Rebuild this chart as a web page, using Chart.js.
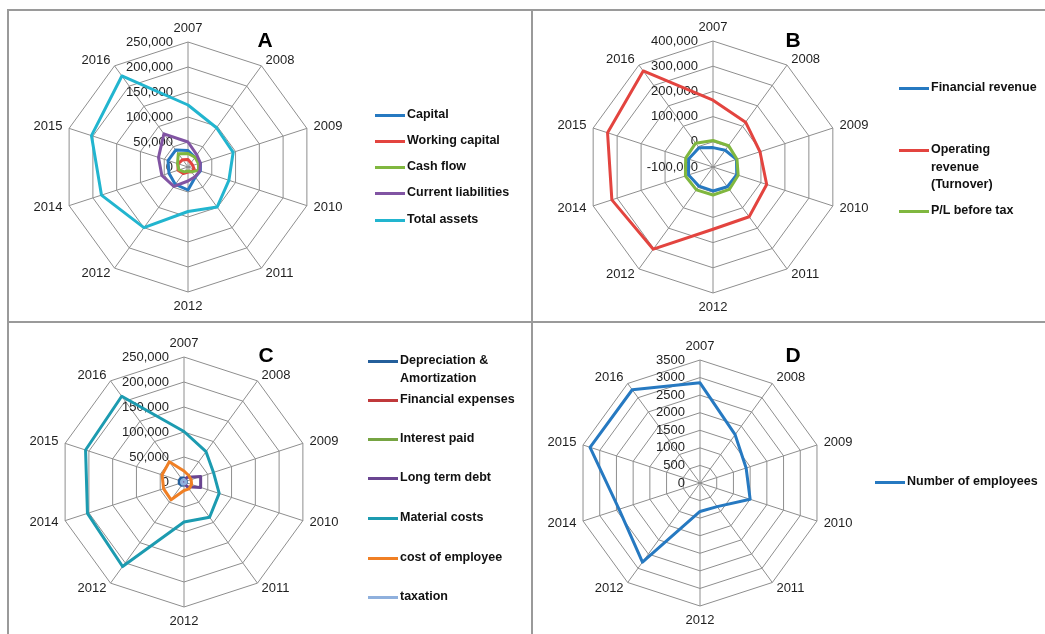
<!DOCTYPE html>
<html>
<head>
<meta charset="utf-8">
<script src="https://cdn.jsdelivr.net/npm/chart.js@4.4.0/dist/chart.umd.min.js"></script>
<style>
  body { margin: 0; background: #fff; width: 1045px; height: 634px; overflow: hidden; position: relative;
         font-family: "Liberation Sans", Arial, sans-serif; }
  .rule { position: absolute; background: #9a9a9a; }
  canvas { position: absolute; }
  .tag { position: absolute; font-weight: bold; font-size: 21px; line-height: 1; color: #000; transform: translate(-50%, -50%); }
  .swatch { position: absolute; width: 30px; height: 3px; }
  .item { position: absolute; font-weight: bold; font-size: 12.5px; line-height: 17.5px; color: #111; white-space: nowrap; }
</style>
</head>
<body>
<!-- frame of the four panels -->
<div class="rule" style="left:7px;top:9px;width:1038px;height:2px"></div>
<div class="rule" style="left:7px;top:321px;width:1038px;height:2px"></div>
<div class="rule" style="left:7px;top:9px;width:2px;height:625px"></div>
<div class="rule" style="left:531px;top:9px;width:2px;height:625px"></div>

<script>
  // axis categories (the source repeats 2012)
  var years = ['2007', '2008', '2009', '2010', '2011', '2012', '2012', '2014', '2015', '2016'];

  // A
  var capital            = [33000, 24000, 26000, 26000, 25000, 46000, 43000, 40000, 42000, 42000];
  var workingCapital     = [15000, 10000, 10000, 13000, 12000, 10000, 16000, 21000, 21000, 18000];
  var cashFlow           = [27000, 24000, 22000, 22000, 12000, 8000, 12000, 19000, 22000, 33000];
  var currentLiabilities = [50000, 30000, 26000, 25000, 24000, 28000, 48000, 55000, 62000, 82000];
  var totalAssets        = [124000, 97000, 95000, 86000, 99000, 89000, 150000, 182000, 203000, 225000];
  var ticksA = ['0', '50,000', '100,000', '150,000', '200,000', '250,000'];

  // B
  var financialRevenue = [-23000, -18000, -2000, -1000, -3000, -5000, -6000, 2000, 2000, -6000];
  var operatingRevenue = [165000, 120000, 96000, 124000, 144000, 147000, 303000, 322000, 340000, 371000];
  var plBeforeTax      = [5000, 5000, 0, 5000, 10000, 11000, 12000, 15000, 14000, 17000];
  var ticksB = ['-100,000', '0', '100,000', '200,000', '300,000', '400,000'];

  // C
  var depreciation      = [8000, 6000, 5000, 5000, 5000, 6000, 8000, 10000, 10000, 10000];
  var financialExpenses = [2000, 2000, 2000, 2000, 2000, 2000, 2000, 3000, 3000, 3000];
  var interestPaid      = [1500, 1500, 1500, 1500, 1500, 1500, 1500, 2000, 2000, 2000];
  var longTermDebt      = [4000, 12000, 35000, 35000, 12000, 3000, 2000, 2000, 2000, 3000];
  var materialCosts     = [101000, 75000, 62000, 74000, 87000, 80000, 209000, 203000, 207000, 212000];
  var costOfEmployee    = [22000, 16000, 15000, 16000, 17000, 17000, 44000, 43000, 46000, 50000];
  var taxation          = [5000, 4000, 4000, 4000, 4000, 4000, 5000, 5000, 5000, 5000];
  var ticksC = ['0', '50,000', '100,000', '150,000', '200,000', '250,000'];

  // D
  var employees = [2850, 1700, 1380, 1500, 830, 810, 2785, 2420, 3290, 3280];
  var ticksD = ['0', '500', '1000', '1500', '2000', '2500', '3000', '3500'];

  var panels = [
    { id: 'A', box: [9, 11, 522, 310], cx: 188, cy: 167, r: 125, tag: [265, 39],
      names: ['Capital', 'Working capital', 'Cash flow', 'Current liabilities', 'Total assets'],
      series: [capital, workingCapital, cashFlow, currentLiabilities, totalAssets],
      colors: ['#2679c1', '#e3443f', '#80b73f', '#8154a3', '#22b5cf'],
      ticks: ticksA, legendX: 375, legendY: [115, 141, 167, 193, 220] },
    { id: 'B', box: [533, 11, 512, 310], cx: 713, cy: 167, r: 126, tag: [793, 39],
      names: ['Financial revenue', ['Operating', 'revenue', '(Turnover)'], 'P/L before tax'],
      series: [financialRevenue, operatingRevenue, plBeforeTax],
      colors: ['#2679c1', '#e3443f', '#80b73f'],
      ticks: ticksB, legendX: 899, legendY: [88, 150, 211] },
    { id: 'C', box: [9, 323, 522, 311], cx: 184, cy: 482, r: 125, tag: [266, 354],
      names: [['Depreciation &', 'Amortization'], 'Financial expenses', 'Interest paid', 'Long term debt',
              'Material costs', 'cost of employee', 'taxation'],
      series: [depreciation, financialExpenses, interestPaid, longTermDebt, materialCosts, costOfEmployee, taxation],
      colors: ['#245f9b', '#c0393b', '#76a442', '#6a4591', '#1c9bb0', '#f07f24', '#8fb0dd'],
      ticks: ticksC, legendX: 368, legendY: [361, 400, 439, 478, 518, 558, 597] },
    { id: 'D', box: [533, 323, 512, 311], cx: 700, cy: 483, r: 123, tag: [793, 354],
      names: ['Number of employees'],
      series: [employees],
      colors: ['#2679c1'],
      ticks: ticksD, legendX: 875, legendY: [482] }
  ];

  function toNumber(t) { return Number(t.replace(/,/g, '')); }

  // value labels left of the first spoke and year labels round the rim, Excel style
  function makeLabels(tickText, tickVals) {
    return {
      id: 'excelLabels',
      beforeDatasetsDraw: function(chart) {
        var s = chart.scales.r, ctx = chart.ctx, n = chart.data.labels.length;
        ctx.save();
        ctx.fillStyle = '#1e1e1e';
        ctx.font = '13px "Liberation Sans", Arial, sans-serif';
        ctx.textAlign = 'right';
        ctx.textBaseline = 'middle';
        tickText.forEach(function(t, i) {
          ctx.fillText(t, s.xCenter - 15, s.yCenter - s.getDistanceFromCenterForValue(tickVals[i]));
        });
        chart.data.labels.forEach(function(lab, i) {
          var deg = i * 360 / n;
          var p = s.getPointPosition(i, s.drawingArea + 7);
          if (deg === 0) { ctx.textAlign = 'center'; ctx.textBaseline = 'bottom'; }
          else if (deg === 180) { ctx.textAlign = 'center'; ctx.textBaseline = 'top'; p.y += 1; }
          else { ctx.textAlign = deg < 180 ? 'left' : 'right'; ctx.textBaseline = 'middle'; }
          ctx.fillText(lab, p.x, p.y);
        });
        ctx.restore();
      }
    };
  }

  function addLegend(p) {
    p.names.forEach(function(name, i) {
      var lines = Array.isArray(name) ? name : [name];
      var y = p.legendY[i];
      var sw = document.createElement('div');
      sw.className = 'swatch';
      sw.style.left = p.legendX + 'px';
      sw.style.top = (y - 1.5) + 'px';
      sw.style.background = p.colors[i];
      document.body.appendChild(sw);
      var tx = document.createElement('div');
      tx.className = 'item';
      tx.style.left = (p.legendX + 32) + 'px';
      tx.style.top = (y - 8.75) + 'px';
      lines.forEach(function(l, k) {
        if (k) tx.appendChild(document.createElement('br'));
        tx.appendChild(document.createTextNode(l));
      });
      document.body.appendChild(tx);
    });
  }

  panels.forEach(function(p) {
    var cv = document.createElement('canvas');
    cv.width = p.box[2];
    cv.height = p.box[3];
    cv.style.left = p.box[0] + 'px';
    cv.style.top = p.box[1] + 'px';
    document.body.appendChild(cv);

    var tag = document.createElement('div');
    tag.className = 'tag';
    tag.textContent = p.id;
    tag.style.left = p.tag[0] + 'px';
    tag.style.top = p.tag[1] + 'px';
    document.body.appendChild(tag);

    var tickVals = p.ticks.map(toNumber);
    var padL = p.cx - p.r - p.box[0];
    var padT = p.cy - p.r - p.box[1];

    new Chart(cv, {
      type: 'radar',
      data: {
        labels: years,
        datasets: p.series.map(function(s, i) {
          var name = Array.isArray(p.names[i]) ? p.names[i].join(' ') : p.names[i];
          return {
            label: name,
            data: s,
            borderColor: p.colors[i],
            backgroundColor: p.colors[i],
            borderWidth: 3,
            borderJoinStyle: 'round',
            pointRadius: 0,
            pointHoverRadius: 0,
            fill: false,
            order: p.series.length - i   // later series on top, as in Excel
          };
        })
      },
      options: {
        responsive: false,
        animation: false,
        events: [],
        layout: { padding: { left: padL, top: padT, right: p.box[2] - padL - 2 * p.r, bottom: p.box[3] - padT - 2 * p.r } },
        plugins: { legend: { display: false }, tooltip: { enabled: false } },
        scales: {
          r: {
            min: tickVals[0],
            max: tickVals[tickVals.length - 1],
            ticks: { display: false, stepSize: tickVals[1] - tickVals[0] },
            pointLabels: { display: false },
            grid: { color: '#8e8e8e', lineWidth: 1 },
            angleLines: { color: '#8e8e8e', lineWidth: 1 }
          }
        }
      },
      plugins: [makeLabels(p.ticks, tickVals)]
    });

    addLegend(p);
  });
</script>
</body>
</html>
